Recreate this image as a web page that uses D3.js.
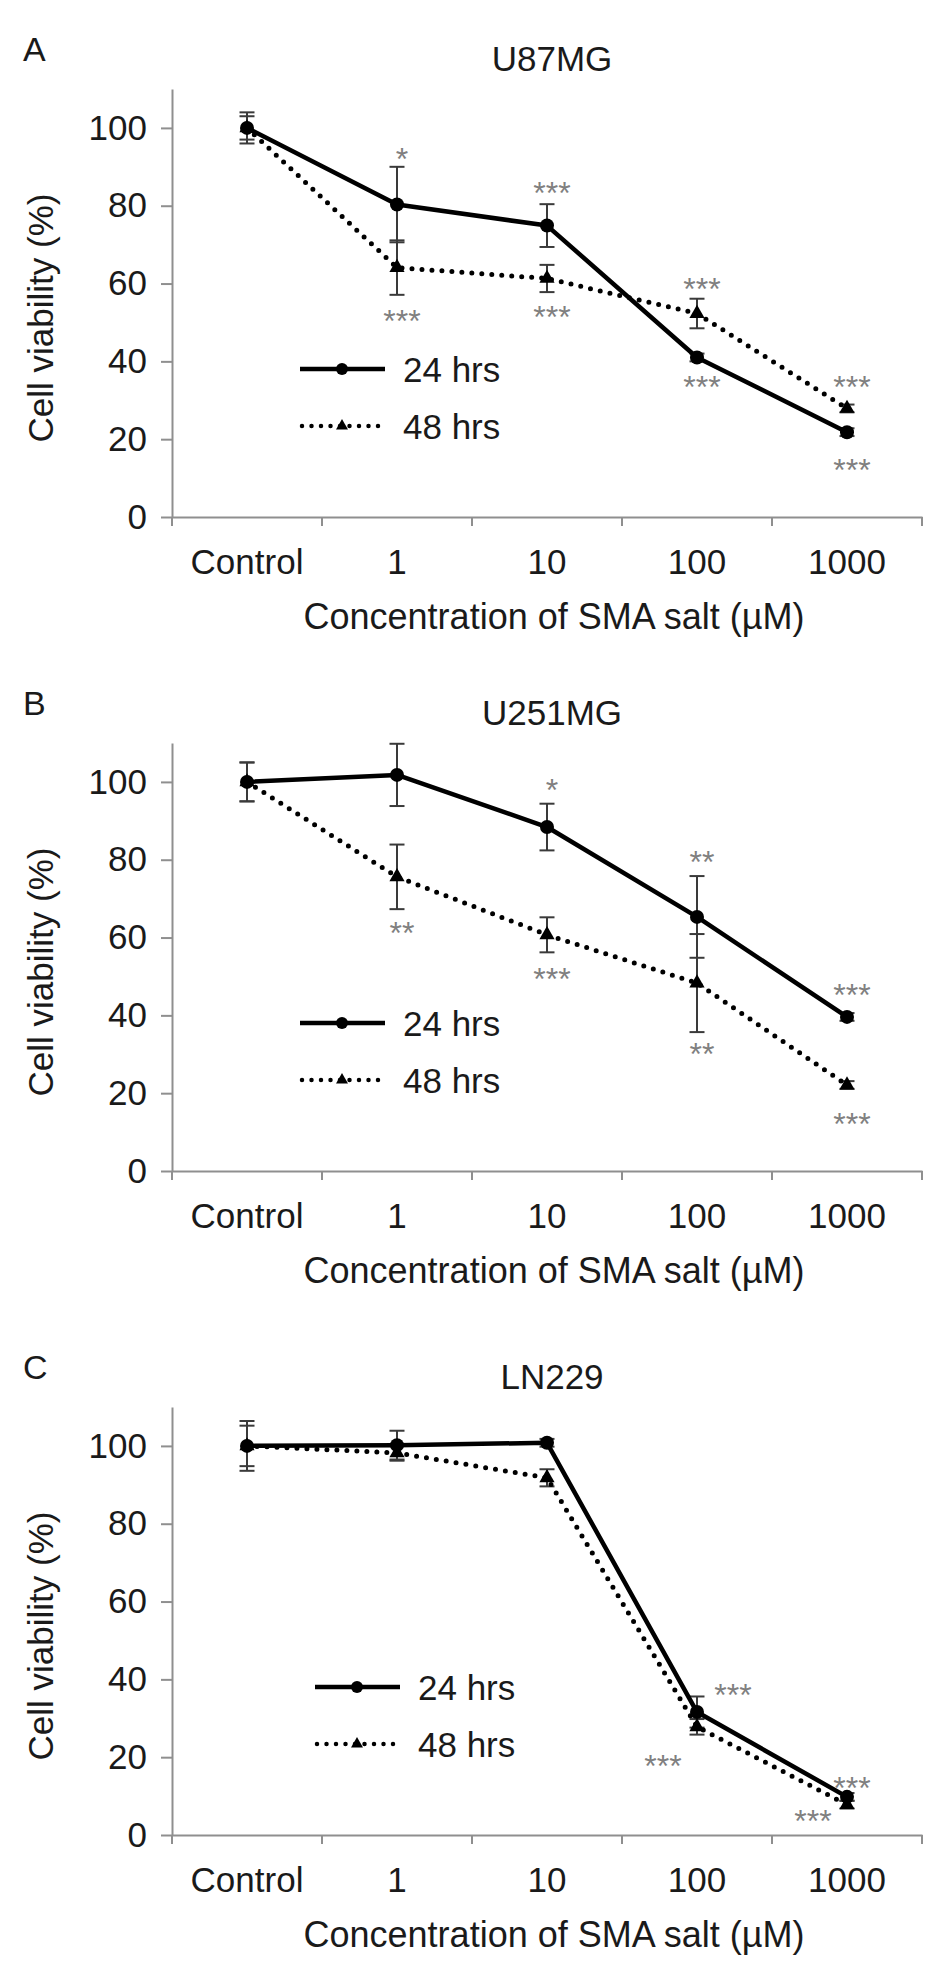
<!DOCTYPE html>
<html>
<head>
<meta charset="utf-8">
<script src="https://cdn.jsdelivr.net/npm/d3@7"></script>
<style>
  body { margin: 0; background: #fff; }
  text { font-family: "Liberation Sans", Arial, sans-serif; fill: #1a1a1a; }
</style>
</head>
<body>
<script>
// ---- data ----
var categories = ["Control", "1", "10", "100", "1000"];
var yTicks = [0, 20, 40, 60, 80, 100];
var panelLetters = ["A", "B", "C"];
var panelTitles = ["U87MG", "U251MG", "LN229"];
var seriesNames = ["24 hrs", "48 hrs"];

// U87MG
var u87h24 = [100, 80.3, 74.9, 41.0, 21.8];
var u87h24err = [4, 9.7, 5.5, 1, 1];
var u87h48 = [100, 64.1, 61.3, 52.3, 27.9];
var u87h48err = [3, 7, 3.5, 3.8, 1];
// [category, series, label, value, side]
var u87stars = [
    ["1", 0, "*", 93.8, "center"],
    ["1", 1, "***", 52.3, "center"],
    ["10", 0, "***", 85.1, "center"],
    ["10", 1, "***", 53.1, "center"],
    ["100", 1, "***", 60.3, "center"],
    ["100", 0, "***", 35.1, "center"],
    ["1000", 1, "***", 35.1, "center"],
    ["1000", 0, "***", 13.8, "center"]
];

// U251MG
var u251h24 = [100, 101.8, 88.4, 65.3, 39.6];
var u251h24err = [5, 8, 6, 10.5, 1];
var u251h48 = [100, 75.6, 60.7, 48.3, 22.1];
var u251h48err = [5, 8.3, 4.5, 12.6, 1];
var u251stars = [
    ["1", 1, "**", 63.0, "center"],
    ["10", 0, "*", 99.7, "center"],
    ["10", 1, "***", 51.2, "center"],
    ["100", 0, "**", 81.2, "center"],
    ["100", 1, "**", 31.9, "center"],
    ["1000", 0, "***", 47.0, "center"],
    ["1000", 1, "***", 13.9, "center"]
];

// LN229
var ln229h24 = [100, 100.2, 100.8, 31.6, 9.8];
var ln229h24err = [6.4, 3.7, 1, 4, 1];
var ln229h48 = [100, 98.2, 91.8, 27.8, 7.8];
var ln229h48err = [5.2, 2, 2.2, 2, 1];
var ln229stars = [
    ["100", 0, "***", 37.8, "right"],
    ["100", 1, "***", 19.5, "left"],
    ["1000", 0, "***", 13.9, "center"],
    ["1000", 1, "***", 5.4, "left"]
];

var panelData = [
    { mean: [u87h24, u87h48], err: [u87h24err, u87h48err], stars: u87stars },
    { mean: [u251h24, u251h48], err: [u251h24err, u251h48err], stars: u251stars },
    { mean: [ln229h24, ln229h48], err: [ln229h24err, ln229h48err], stars: ln229stars }
];

// ---- layout ----
var W = 945, H = 1974;
var baseY = [517, 1171, 1835];     // pixel row of y = 0 for each panel
var legendX = [300, 300, 315];
var plotH = 428;
var axisColor = "#8f8f8f";

var svg = d3.select("body").append("svg")
    .attr("width", W)
    .attr("height", H);

var x = d3.scaleBand()
    .domain(categories)
    .range([172, 922])
    .padding(0);

var starOffset = { left: -34, center: 5, right: 36 };

panelData.forEach(function (p, i) {
    var y0 = baseY[i];
    var y = d3.scaleLinear().domain([0, 110]).range([y0, y0 - plotH]);
    var g = svg.append("g");
    var cx = function (c) { return x(c) + x.bandwidth() / 2; };

    // panel letter and title
    g.append("text")
        .attr("x", 23).attr("y", y(110) - 28)
        .attr("font-size", 34)
        .text(panelLetters[i]);
    g.append("text")
        .attr("x", 552).attr("y", y(110) - 18)
        .attr("text-anchor", "middle")
        .attr("font-size", 35)
        .text(panelTitles[i]);

    // y axis
    var ya = g.append("g")
        .attr("transform", "translate(172,0)")
        .call(d3.axisLeft(y).tickValues(yTicks).tickSize(11).tickSizeOuter(0).tickPadding(14));
    ya.selectAll("path, line").attr("stroke", axisColor).attr("stroke-width", 2);
    ya.selectAll("text").attr("font-size", 35).attr("font-family", "Liberation Sans, Arial, sans-serif").attr("fill", "#1a1a1a");

    // x axis: line, boundary ticks, centred labels
    var xa = g.append("g")
        .attr("transform", "translate(0," + y0 + ")")
        .call(d3.axisBottom(x).tickSize(0).tickSizeOuter(0));
    xa.select("path").attr("stroke", axisColor).attr("stroke-width", 2);
    xa.selectAll("text")
        .attr("y", 57).attr("dy", null)
        .attr("font-size", 35)
        .attr("font-family", "Liberation Sans, Arial, sans-serif")
        .attr("fill", "#1a1a1a");
    var edges = categories.map(function (c) { return x(c); }).concat([x.range()[1]]);
    g.selectAll(".xedge").data(edges).enter().append("line")
        .attr("x1", function (d) { return d; })
        .attr("x2", function (d) { return d; })
        .attr("y1", y0).attr("y2", y0 + 9)
        .attr("stroke", axisColor).attr("stroke-width", 2);

    // axis titles
    g.append("text")
        .attr("transform", "translate(53," + (y0 - 199) + ") rotate(-90)")
        .attr("text-anchor", "middle")
        .attr("font-size", 35)
        .text("Cell viability (%)");
    g.append("text")
        .attr("x", 554).attr("y", y0 + 112)
        .attr("text-anchor", "middle")
        .attr("font-size", 36)
        .text("Concentration of SMA salt (\u00b5M)");

    // error bars
    [1, 0].forEach(function (s) {
        var eb = g.append("g").attr("stroke", "#3a3a3a").attr("stroke-width", 2);
        categories.forEach(function (c, k) {
            var m = p.mean[s][k], e = p.err[s][k];
            eb.append("line")
                .attr("x1", cx(c)).attr("x2", cx(c))
                .attr("y1", y(m - e)).attr("y2", y(m + e));
            [m - e, m + e].forEach(function (v) {
                eb.append("line")
                    .attr("x1", cx(c) - 7.5).attr("x2", cx(c) + 7.5)
                    .attr("y1", y(v)).attr("y2", y(v));
            });
        });
    });

    // series lines: 48 hrs (dotted) under 24 hrs (solid)
    var line = d3.line()
        .x(function (d, k) { return cx(categories[k]); })
        .y(function (d) { return y(d); });
    g.append("path")
        .datum(p.mean[1])
        .attr("d", line)
        .attr("fill", "none")
        .attr("stroke", "#000")
        .attr("stroke-width", 5)
        .attr("stroke-linecap", "round")
        .attr("stroke-dasharray", "0 10");
    g.selectAll(".tri").data(p.mean[1]).enter().append("path")
        .attr("d", d3.symbol(d3.symbolTriangle, 100))
        .attr("transform", function (d, k) { return "translate(" + cx(categories[k]) + "," + y(d) + ")"; })
        .attr("fill", "#000");
    g.append("path")
        .datum(p.mean[0])
        .attr("d", line)
        .attr("fill", "none")
        .attr("stroke", "#000")
        .attr("stroke-width", 4.5)
        .attr("stroke-linejoin", "round");
    g.selectAll(".dot").data(p.mean[0]).enter().append("circle")
        .attr("cx", function (d, k) { return cx(categories[k]); })
        .attr("cy", function (d) { return y(d); })
        .attr("r", 7)
        .attr("fill", "#000");

    // significance stars
    g.selectAll(".star").data(p.stars).enter().append("text")
        .attr("x", function (d) { return cx(d[0]) + starOffset[d[4]]; })
        .attr("y", function (d) { return y(d[3]) + 18; })
        .attr("text-anchor", "middle")
        .attr("font-size", 32)
        .style("fill", "#808080")
        .text(function (d) { return d[2]; });

    // legend
    var lx = legendX[i];
    var ly = [y0 - 148, y0 - 91];
    g.append("line")
        .attr("x1", lx).attr("x2", lx + 85)
        .attr("y1", ly[0]).attr("y2", ly[0])
        .attr("stroke", "#000").attr("stroke-width", 4.5);
    g.append("circle")
        .attr("cx", lx + 42).attr("cy", ly[0]).attr("r", 6)
        .attr("fill", "#000");
    g.append("line")
        .attr("x1", lx + 2).attr("x2", lx + 80)
        .attr("y1", ly[1]).attr("y2", ly[1])
        .attr("stroke", "#000").attr("stroke-width", 4.5)
        .attr("stroke-linecap", "round")
        .attr("stroke-dasharray", "0 9.5");
    g.append("path")
        .attr("d", d3.symbol(d3.symbolTriangle, 62))
        .attr("transform", "translate(" + (lx + 42) + "," + ly[1] + ")")
        .attr("fill", "#000");
    seriesNames.forEach(function (name, s) {
        g.append("text")
            .attr("x", lx + 103).attr("y", ly[s])
            .attr("dy", "0.36em")
            .attr("font-size", 35)
            .text(name);
    });
});
</script>
</body>
</html>
